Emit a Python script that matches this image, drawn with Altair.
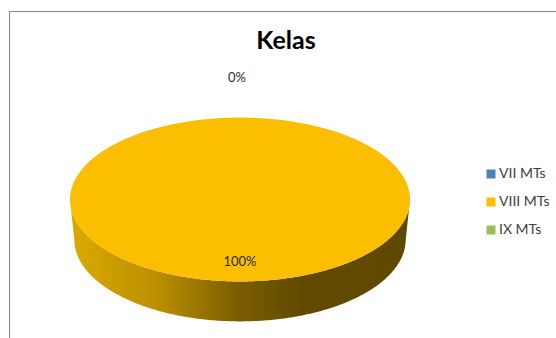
import altair as alt
import numpy as np
import pandas as pd

# Chart values
kelas = ["VII MTs", "VIII MTs", "IX MTs"]
persen = [0, 100, 0]
warna = ["#4F81BD", "#FCBE00", "#9BBB59"]
judul = "Kelas"

# Pie geometry, in units of the disc's radius
W, H = 556, 338
PX = 170.0
CX, CY = 240.0, 199.5
TILT = 0.482
BOTTOM_R = 0.975
DROP = 0.235
X_DOMAIN = [-CX / PX, (W - CX) / PX]
Y_DOMAIN = [-(H - CY) / PX, CY / PX]

t = np.linspace(0, np.pi, 241)
ux = -np.cos(t)
uy = np.sin(t)

# Top face of the slice that owns the whole disc
dominant = kelas[int(np.argmax(persen))]
top = pd.DataFrame({"x": ux, "y": TILT * uy, "y2": -TILT * uy, "kelas": dominant})

# Side wall: front edge of the top face down to the smaller base ellipse
bx = np.clip(ux / BOTTOM_R, -1, 1)
base = -DROP - TILT * np.sqrt(1 - bx**2)
outside = np.abs(ux) > BOTTOM_R
base[outside] = (-DROP * (1 - (np.abs(ux[outside]) - BOTTOM_R) / (1 - BOTTOM_R)))
wall = pd.DataFrame({"x": ux, "y": -TILT * uy, "y2": base})

x_scale = alt.Scale(domain=X_DOMAIN, nice=False, zero=False)
y_scale = alt.Scale(domain=Y_DOMAIN, nice=False, zero=False)
X = alt.X("x:Q", scale=x_scale, axis=None)
Y = alt.Y("y:Q", scale=y_scale, axis=None)

wall_layer = alt.Chart(wall).mark_area(
    color=alt.Gradient(
        gradient="linear", x1=0, x2=1, y1=0, y2=0,
        stops=[
            alt.GradientStop(offset=0.0, color="#DBAA00"),
            alt.GradientStop(offset=0.25, color="#BC9000"),
            alt.GradientStop(offset=0.5, color="#7A5C00"),
            alt.GradientStop(offset=0.68, color="#614A00"),
            alt.GradientStop(offset=1.0, color="#5F4900"),
        ],
    )
).encode(x=X, y=Y, y2="y2:Q")

top_layer = alt.Chart(top).mark_area(opacity=1).encode(
    x=X,
    y=Y,
    y2="y2:Q",
    color=alt.Color(
        "kelas:N",
        scale=alt.Scale(domain=kelas, range=warna),
        legend=alt.Legend(
            title=None,
            orient="none",
            legendX=484,
            legendY=167,
            symbolType="square",
            symbolSize=81,
            symbolStrokeWidth=0,
            symbolOpacity=1,
            labelFont="Lato",
            labelFontSize=14,
            labelColor="#404040",
            labelOffset=1,
            rowPadding=14,
            padding=0,
        ),
    ),
)

# One data label per distinct percentage: the empty slices share a spot above the disc
labels = pd.DataFrame({
    "teks": [f"{v}%" for v in sorted(set(persen))],
    "x": [-0.018, 0.0],
    "y": [0.715, -0.365],
})
label_layer = alt.Chart(labels).mark_text(
    font="Lato", fontSize=13, color="#2A2A2A"
).encode(x=X, y=Y, text="teks:N")

title_layer = alt.Chart(pd.DataFrame({"teks": [judul]})).mark_text(
    font="Lato", fontSize=25, fontWeight="bold", color="#000000"
).encode(x=alt.value(286), y=alt.value(41), text="teks:N")

# Chart-area border; its right and bottom edges fall outside the frame
frame_top = alt.Chart(pd.DataFrame({"a": [0]})).mark_rule(color="#868686", strokeWidth=1).encode(
    x=alt.value(9.5), x2=alt.value(W), y=alt.value(11.5)
)
frame_left = alt.Chart(pd.DataFrame({"a": [0]})).mark_rule(color="#868686", strokeWidth=1).encode(
    x=alt.value(9.5), y=alt.value(11.5), y2=alt.value(H)
)

chart = alt.layer(
    frame_top, frame_left, wall_layer, top_layer, label_layer, title_layer
).properties(
    width=W,
    height=H,
    padding=0,
    autosize=alt.AutoSizeParams(type="none"),
    background="#FFFFFF",
).configure_view(stroke=None)

chart.save("out.html", embed_options={"renderer": "svg", "actions": False})
